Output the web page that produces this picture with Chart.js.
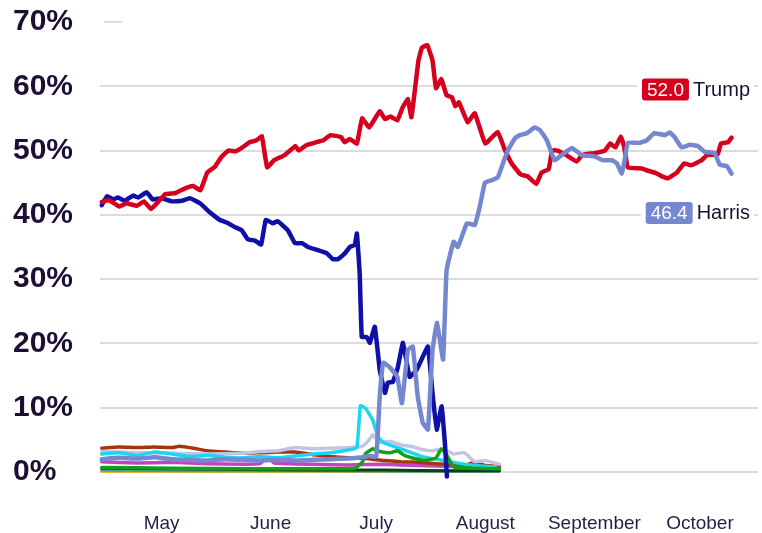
<!DOCTYPE html>
<html>
<head>
<meta charset="utf-8">
<title>Trump vs Harris</title>
<script src="https://cdn.jsdelivr.net/npm/chart.js@4.4.1/dist/chart.umd.min.js"></script>
<style>
  body { margin: 0; background: #fff; }
  #grafico { display: block; }
</style>
</head>
<body>
<canvas id="grafico" width="762" height="533"></canvas>
<script>
/* dias contados desde el 14 de abril */
const START = Date.UTC(2024, 3, 14)
const monthNames = ["May", "June", "July", "August", "September", "October"]
const monthStarts = [Date.UTC(2024, 4, 1), Date.UTC(2024, 5, 1), Date.UTC(2024, 6, 1), Date.UTC(2024, 7, 1), Date.UTC(2024, 8, 1), Date.UTC(2024, 9, 1)]
const yTicks = [0, 10, 20, 30, 40, 50, 60, 70]

const trumpDays = [0,2,5,7,10,12,14,16,18,21,24,26,28,30,32,34,36,38,40,42,44,45.5,47,49,52,55,56,58,61,63,65,68,69,70.5,72.5,74,76,79,80.5,82,84,85.5,87,88,90,91,92.5,94,95,96.5,98,99.5,100.5,101.5,104,106,109,112.5,114.5,116.5,119,121,123.5,125,127,128,129.5,132,135,136.5,140,143,144.5,146,147.5,148.5,149.5,153.5,155,157.5,159.5,161,163.5,165.5,167.5,170.5,172,175,176,178,179]
const trumpValues = [42.0,42.3,41.3,41.8,41.4,42.1,40.9,42.0,43.2,43.4,44.2,44.5,43.8,46.6,47.4,49.0,50.0,49.9,50.5,51.3,51.6,52.2,47.4,48.5,49.3,50.7,50.0,50.8,51.3,51.6,52.4,52.1,51.3,51.8,51.1,55.0,53.6,56.1,54.9,55.3,54.7,56.7,58.0,55.2,64.0,66.0,66.4,64.0,59.7,61.1,58.6,58.3,56.9,57.5,54.4,55.8,51.1,52.9,50.2,48.0,46.3,46.0,44.8,46.6,47.1,50.0,50.0,49.3,48.3,49.3,49.6,50.0,51.1,50.5,52.2,50.5,47.4,47.2,46.9,46.5,45.9,45.7,46.6,48.0,47.7,48.5,49.3,49.4,51.1,51.3,52.0]

const harrisDays = [0,5,10,15,20,25,30,35,40,45,50,55,60,65,70,74,76,78,79,80,82,84,85.3,87,88.4,89.8,91.2,92.7,94,95.3,97,98,100,101.2,103.8,106,107.4,108.9,110.9,112.6,114,115.4,117.4,118.8,120.8,123,124.5,126.5,128.7,130.7,133.6,136.4,140,142.4,145,146.4,147.8,148.6,149.5,152.9,154.9,157,160,161.4,162.8,164.8,167.1,169.4,171.4,174.2,175.6,177.6,179]
const harrisValues = [2.0,2.2,2.1,2.3,2.0,1.9,1.8,2.0,1.9,1.8,1.9,1.8,1.9,2.0,2.1,2.3,2.5,2.4,11.7,17.0,16.2,14.8,10.7,19.0,19.5,11.7,7.7,6.6,19.0,23.2,17.5,31.4,35.8,35.0,38.7,38.4,41.2,45.0,45.4,45.9,48.0,50.0,51.9,52.4,52.7,53.6,53.2,51.6,48.5,49.3,50.4,49.3,49.1,48.5,48.5,48.0,46.4,48.5,51.2,51.2,51.6,52.7,52.4,52.8,52.1,50.5,50.9,50.7,49.8,49.6,47.8,47.6,46.4]

const bidenDays = [0,1.5,3.2,4.6,6.6,8.9,10.3,12.8,14.5,17.1,19.9,22.8,25,27.9,30.7,33.6,35.9,37.8,39.8,41.5,43.5,45.3,46.6,48.6,50,52.9,54.9,56.9,58.6,61.4,64,65.7,67.1,69.1,70.5,71.9,72.5,73.3,73.9,75.3,76.2,77.6,79,80.5,81.3,82.7,84.1,85.6,87.5,89.5,91.2,92.7,94.1,95.2,96.6,97.5,98.1]
const bidenValues = [41.5,42.9,42.4,42.7,42.2,43.0,42.7,43.5,42.4,42.6,42.1,42.2,42.6,41.8,40.4,39.2,38.7,38.1,37.6,36.2,36.0,35.4,39.2,38.7,39.0,37.6,35.6,35.6,35.0,34.5,34.0,33.1,33.1,34.0,35.0,35.3,37.1,30.9,21.0,21.0,20.1,22.6,15.9,12.3,13.9,14.0,16.2,20.1,14.8,15.9,17.9,19.5,11.7,6.6,10.2,4.6,-0.7]

/* candidatos menores */
const brownDays = [0,5,10,15,20,22,26,30,35,40,45,50,55,60,65,70,75,80,85,90,95,100,103,106,109,113]
const brownValues = [3.7,3.9,3.8,3.9,3.8,4.0,3.7,3.3,3.1,2.9,3.0,3.1,3.1,2.7,2.4,2.2,2.1,1.8,1.6,1.5,1.3,1.1,1.0,1.5,1.0,0.9]
const lavenderDays = [0,10,20,30,40,45,50,55,60,65,70,74,76,77,79,82,85,88,91,94,97,100,103,106,109,113]
const lavenderValues = [3.2,3.0,2.9,2.8,2.9,3.2,3.3,3.8,3.6,3.7,3.8,4.0,5.0,5.8,4.6,4.8,4.2,4.0,3.5,3.3,3.6,2.8,3.0,1.6,1.8,1.2]
const cyanDays = [0,5,10,15,20,25,30,35,40,45,50,55,60,65,70,72.5,73.5,75,77,78.5,80,84,87,91,96,100,106,112]
const cyanValues = [2.8,3.0,2.6,3.1,2.8,2.4,2.6,2.3,2.2,2.4,2.2,2.5,2.8,3.0,3.4,3.8,10.3,9.9,8.1,5.5,4.6,3.8,3.2,2.4,1.9,1.5,1.0,0.8]
const greenDays = [0,20,40,60,72,74,75,77,79,82,84,86,89,92,95,96.5,98,100,105,113]
const greenValues = [0.7,0.6,0.5,0.5,0.6,1.5,2.9,3.6,3.2,3.0,3.3,2.6,2.1,1.8,2.2,3.6,2.7,0.8,0.6,0.5]
const magentaDays = [0,10,20,30,40,45,47,49,60,70,80,90,100,113]
const magentaValues = [1.6,1.4,1.5,1.3,1.2,1.3,2.3,1.4,1.2,1.1,1.2,1.0,0.9,0.8]
const darkGreenDays = [0,20,40,60,80,100,113]
const darkGreenValues = [0.6,0.5,0.4,0.3,0.3,0.2,0.2]
const tealDays = [0,30,60,90,113]
const tealValues = [0.3,0.2,0.2,0.1,0.1]
const yellowDays = [0,113]
const yellowValues = [0.1,0.1]

const toDay = (ms) => (ms - START) / 86400000
const monthTicks = monthStarts.map(toDay)
const juntar = (days, values) => days.map((d, i) => ({ x: d, y: values[i] }))

const linea = (label, days, values, color, width) => ({
    label: label,
    data: juntar(days, values),
    borderColor: color,
    borderWidth: width,
    pointRadius: 0,
    tension: 0.1,
    borderJoinStyle: 'round',
    borderCapStyle: 'round',
    clip: false
})

/* etiquetas al final de cada linea */
const endLabels = [
    { dataset: 1, name: 'Trump', color: '#d4001e', at: 59.5 },
    { dataset: 0, name: 'Harris', color: '#7487cf', at: 40.3 }
]

const labelsPlugin = {
    id: 'endLabels',
    beforeDatasetsDraw(chart) {
        const { ctx, chartArea, scales } = chart
        // trocito de la linea del 70%
        const y70 = scales.y.getPixelForValue(70)
        ctx.save()
        ctx.strokeStyle = '#dcdcdc'
        ctx.lineWidth = 2
        ctx.beginPath()
        ctx.moveTo(chartArea.left + 4, y70)
        ctx.lineTo(chartArea.left + 22, y70)
        ctx.stroke()
        ctx.restore()
    },
    afterDatasetsDraw(chart) {
        const { ctx, chartArea, scales } = chart
        ctx.save()
        endLabels.forEach((lab) => {
            const data = chart.data.datasets[lab.dataset].data
            const value = data[data.length - 1].y.toFixed(1)
            const y = scales.y.getPixelForValue(lab.at)
            ctx.font = '20px "Liberation Sans", Arial, sans-serif'
            const nameW = ctx.measureText(lab.name).width
            const nameX = chartArea.right - 8 - nameW
            ctx.font = '19px "Liberation Sans", Arial, sans-serif'
            const valW = ctx.measureText(value).width
            const boxW = valW + 10
            const boxX = nameX - 4 - boxW
            ctx.fillStyle = '#ffffff'
            ctx.fillRect(boxX - 5, y - 13, chartArea.right - boxX + 1, 26)
            ctx.fillStyle = lab.color
            ctx.beginPath()
            ctx.roundRect(boxX, y - 11, boxW, 22, 3)
            ctx.fill()
            ctx.fillStyle = '#ffffff'
            ctx.textBaseline = 'middle'
            ctx.textAlign = 'left'
            ctx.fillText(value, boxX + 5, y + 1)
            ctx.font = '20px "Liberation Sans", Arial, sans-serif'
            ctx.fillStyle = '#1c0f33'
            ctx.fillText(lab.name, nameX, y + 1)
        })
        ctx.restore()
    }
}

const data = {
    datasets: [
        linea('Harris', harrisDays, harrisValues, '#7487cf', 4.5),
        linea('Trump', trumpDays, trumpValues, '#d4001e', 4.5),
        linea('Biden', bidenDays, bidenValues, '#1010a6', 4.5),
        linea('Otro 1', greenDays, greenValues, '#14a014', 3.5),
        linea('Otro 2', cyanDays, cyanValues, '#1ad6f2', 3.5),
        linea('Otro 3', lavenderDays, lavenderValues, '#c3c3e3', 3.5),
        linea('Otro 4', brownDays, brownValues, '#a5360c', 3.5),
        linea('Otro 5', magentaDays, magentaValues, '#c444c0', 3.5),
        linea('Otro 6', darkGreenDays, darkGreenValues, '#0c3f26', 3),
        linea('Otro 7', tealDays, tealValues, '#3ca58a', 3),
        linea('Otro 8', yellowDays, yellowValues, '#e6a800', 3)
    ]
}

const config = {
    type: 'line',
    data: data,
    plugins: [labelsPlugin],
    options: {
        responsive: false,
        animation: false,
        layout: { padding: { left: 13, right: 4, top: 22, bottom: 0 } },
        plugins: { legend: { display: false }, tooltip: { enabled: false } },
        scales: {
            x: {
                type: 'linear',
                min: -0.5,
                max: 186.5,
                afterBuildTicks: (scale) => { scale.ticks = monthTicks.map((v) => ({ value: v })) },
                afterFit: (scale) => {
                    scale.height = 61
                    scale.paddingLeft = 0
                    scale.paddingRight = 0
                },
                grid: { display: false },
                border: { display: false },
                ticks: {
                    autoSkip: false,
                    maxRotation: 0,
                    padding: 32,
                    color: '#2a1c44',
                    font: { family: '"Liberation Sans", Arial, sans-serif', size: 19 },
                    callback: (v) => monthNames[monthTicks.indexOf(v)]
                }
            },
            y: {
                min: 0,
                max: 70,
                afterBuildTicks: (scale) => { scale.ticks = yTicks.map((v) => ({ value: v })) },
                afterFit: (scale) => { scale.width = 87 },
                border: { display: false },
                grid: {
                    drawTicks: false,
                    lineWidth: 2,
                    color: (c) => c.tick && c.tick.value === 70 ? 'rgba(0,0,0,0)' : '#dcdcdc'
                },
                ticks: {
                    crossAlign: 'far',
                    color: '#1c0f33',
                    font: { family: '"Liberation Sans", Arial, sans-serif', size: 30, weight: 'bold' },
                    callback: (v) => v + '%'
                }
            }
        }
    }
}

new Chart(document.getElementById('grafico'), config)
</script>
</body>
</html>
